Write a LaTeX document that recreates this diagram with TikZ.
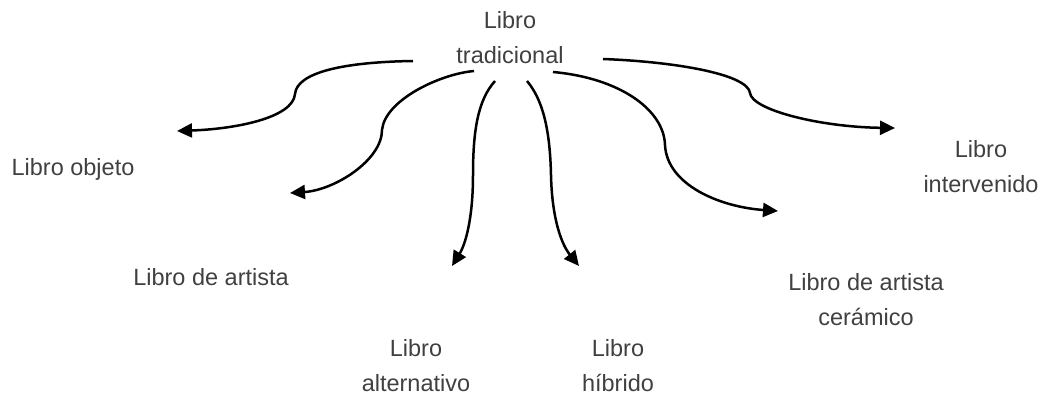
\documentclass[tikz,border=0pt]{standalone}
\usepackage{fontspec}
\setmainfont{Liberation Sans}
\usepackage{xcolor}
\usepackage{tikz}
\usetikzlibrary{arrows.meta}
\definecolor{txtgray}{HTML}{404040}

\begin{document}
\begin{tikzpicture}[x=1pt, y=-1pt,
    lbl/.style={align=center, anchor=north, inner sep=0pt, text=txtgray,
      font=\fontsize{23.5}{35}\selectfont},
    rama/.style={line width=2.5pt, -{Triangle[length=15pt, width=14pt]}}]
          \useasboundingbox (0,0) rectangle (1045,396);

          \node[lbl] (trad) at (510,11) {Libro\\tradicional};
          \node[lbl] (obj) at (73,158) {Libro objeto};
          \node[lbl] (art) at (211,268) {Libro de artista};
          \node[lbl] (alt) at (416,339) {Libro\\alternativo};
          \node[lbl] (hib) at (618,339) {Libro\\híbrido};
          \node[lbl] (cer) at (866,273) {Libro de artista\\cerámico};
          \node[lbl] (int) at (981,140) {Libro\\intervenido};

          \foreach \x\y [count=\xi from 1] in {413/61, 474/71, 495/81, 527/81, 553/72, 603/59}{%
            \coordinate (s\xi) at (\x, \y);
          }
          \foreach \x\y [count=\xi from 1] in {177/131, 290/193, 452/266, 579/266, 778/211, 895/128}{%
            \coordinate (e\xi) at (\x, \y);
          }

          \draw[rama] (s1) .. controls (345,62) and (297,72) .. (295,94)
                           .. controls (293,118) and (235,129) .. (e1);
          \draw[rama] (s2) .. controls (440,74) and (385,100) .. (382,130)
                           .. controls (382,160) and (335,190) .. (e2);
          \draw[rama] (s3) .. controls (478,100) and (473,130) .. (473,175)
                           .. controls (473,220) and (465,245) .. (e3);
          \draw[rama] (s4) .. controls (543,100) and (550,130) .. (551,175)
                           .. controls (552,220) and (562,245) .. (e4);
          \draw[rama] (s5) .. controls (620,78) and (664,110) .. (665,145)
                           .. controls (667,185) and (720,207) .. (e5);
          \draw[rama] (s6) .. controls (680,62) and (748,75) .. (750,93)
                           .. controls (752,110) and (820,127) .. (e6);
        \end{tikzpicture}
\end{document}
